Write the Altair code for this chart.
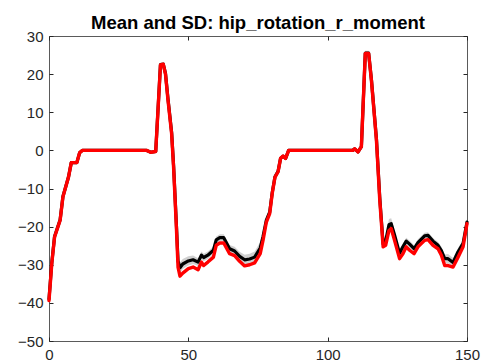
import altair as alt
import pandas as pd

# sample positions (x) and series values
x_vals = [0, 1, 2, 4, 5, 7, 8, 10, 11, 12, 35, 36.5, 38.3, 40, 41, 41.8, 42.7, 44, 44.7, 45.7,
          46.3, 47, 48, 50, 51.7, 53.5, 54.7, 55.5, 57, 59, 60, 61.3, 62.7, 64.8, 66.6, 68.4, 70.2, 72, 73.8, 75.8,
          76.8, 78, 79.2, 80.1, 81.1, 82.2, 83.1, 84, 84.9, 86, 109, 109.7, 110.9, 112.1, 113.5, 114.7, 115.7, 117.5,
          118.7, 119.9, 120.8, 122, 122.8, 124, 125.8, 127, 128.2, 129.4, 131, 132.4, 134.8, 136, 137.8, 139.6,
          140.8, 142, 143.2, 145, 146.8, 148.6, 150]

red_vals = [-39.4, -29.7, -22.7, -18.3, -12.2, -7.0, -3.2, -3.2, -0.6, 0, 0, -0.5, -0.3, 22.4, 22.6, 20, 13.2, 4.4, -4.3, -20,
            -30.6, -33, -32.2, -31, -30.6, -31.3, -29.3, -30.2, -29.3, -28, -24.9, -24.3, -24.3, -27.1, -27.6, -29.1, -30.3, -30, -29.5, -27.1,
            -23.6, -18.8, -16.6, -11.3, -7, -5.6, -2.1, -1.5, -2.1, 0, 0, 0.4, -0.4, 1, 25.4, 25.4, 18.4, 2.7,
            -13.1, -25.3, -24.9, -21, -20.5, -23.6, -28.4, -27.1, -25.3, -26.2, -27.1, -25.3, -23.6, -23.4, -24.9, -25.8,
            -27.5, -30.2, -30.2, -30.6, -28, -25.3, -19.2]

mean_vals = [-39.0, -29.5, -22.6, -18.2, -12.1, -7.0, -3.2, -3.2, -0.6, 0, 0, -0.5, -0.3, 22.5, 22.6, 20.2, 13.5, 4.8, -3.9, -19.2,
             -29.0, -30.8, -29.8, -29.0, -28.7, -29.3, -27.5, -28.1, -27.5, -26.2, -23.5, -22.9, -22.9, -25.8, -26.4, -27.8, -28.7, -28.5, -28.0, -25.6,
             -22.6, -18.3, -16.2, -11.1, -6.9, -5.5, -2.1, -1.5, -2.1, 0, 0, 0.4, -0.4, 1.0, 25.5, 25.5, 18.6, 3.0,
             -12.5, -24.6, -23.8, -19.5, -19.2, -22.2, -27.0, -25.3, -23.8, -24.6, -25.8, -24.2, -22.4, -22.3, -23.8, -24.9,
             -26.3, -28.4, -28.4, -29.4, -26.6, -24.4, -18.8]

sd_vals = [1.0, 1.0, 0.6, 0.5, 0.5, 0.5, 0.4, 0.4, 0.3, 0.2, 0.2, 0.3, 0.4, 0.6, 0.6, 0.6, 0.7, 0.7, 0.8, 1.0,
           1.3, 1.4, 1.3, 1.2, 1.1, 1.0, 1.0, 1.0, 1.0, 1.0, 0.9, 0.9, 0.9, 1.0, 1.1, 1.2, 1.3, 1.4, 1.5, 1.6,
           1.4, 1.0, 0.9, 0.7, 0.6, 0.5, 0.4, 0.4, 0.4, 0.2, 0.2, 0.3, 0.3, 0.4, 0.6, 0.6, 0.6, 0.7,
           0.8, 1.0, 1.2, 1.5, 1.4, 1.1, 1.0, 0.9, 0.9, 0.9, 0.9, 0.9, 0.8, 0.8, 0.8, 0.9,
           1.0, 1.1, 1.2, 1.2, 1.0, 0.9, 0.8]

x_ticks = [0, 50, 100, 150]
y_ticks = [-50, -40, -30, -20, -10, 0, 10, 20, 30]

df = pd.DataFrame({"x": x_vals, "red": red_vals, "mean": mean_vals, "sd": sd_vals})
df["lo"] = df["mean"] - df["sd"]
df["hi"] = df["mean"] + df["sd"]

FONT = "Liberation Sans"
INK = "#262626"
xs = alt.Scale(domain=[0, 150], nice=False, zero=False)
ys = alt.Scale(domain=[-50, 30], nice=False, zero=False)

common = dict(domain=False, grid=False, title=None, tickColor=INK, tickSize=4, offset=-4,
              labelFont=FONT, labelFontSize=15, labelColor=INK)

ax_bottom = alt.Axis(orient="bottom", values=x_ticks, labelPadding=6, labelFlush=False,
                     labelOverlap=False, **common)
ax_left = alt.Axis(orient="left", values=y_ticks, labelPadding=6, labelOverlap=False, **common)
ax_top = alt.Axis(orient="top", values=x_ticks, labels=False, **common)
ax_right = alt.Axis(orient="right", values=y_ticks, labels=False, **common)

base = alt.Chart(df)

band = base.mark_area(color="#c4c4c4", opacity=0.8).encode(
    x=alt.X("x:Q", scale=xs, axis=ax_bottom),
    y=alt.Y("lo:Q", scale=ys, axis=ax_left),
    y2="hi:Q",
)
mean_line = base.mark_line(color="black", strokeWidth=3.2, strokeJoin="round", strokeCap="round").encode(
    x=alt.X("x:Q", scale=xs, axis=ax_top),
    y=alt.Y("mean:Q", scale=ys, axis=ax_right),
)
red_line = base.mark_line(color="#ff0000", strokeWidth=3.4, strokeJoin="round", strokeCap="round").encode(
    x=alt.X("x:Q", scale=xs, axis=None),
    y=alt.Y("red:Q", scale=ys, axis=None),
)

chart = (
    alt.layer(band, mean_line, red_line)
    .resolve_axis(x="independent", y="independent")
    .properties(
        width=418,
        height=305,
        autosize="none",
        padding={"left": 49, "top": 36, "right": 15, "bottom": 23},
        title=alt.Title("Mean and SD: hip_rotation_r_moment", font=FONT, fontSize=18.5,
                        fontWeight="bold", color="black", offset=-3, anchor="middle"),
        background="white",
    )
    .configure_view(stroke="#5a5a5a", strokeWidth=1)
)

chart.save("out.html", embed_options={"renderer": "svg", "actions": False})
